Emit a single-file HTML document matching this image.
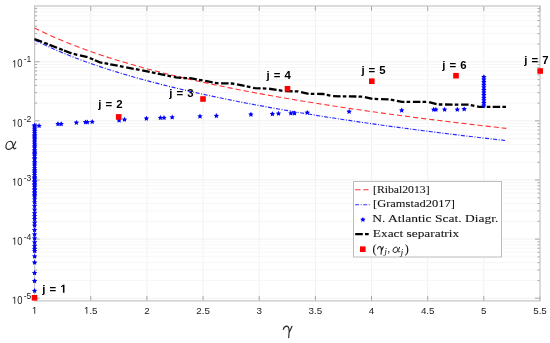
<!DOCTYPE html>
<html><head><meta charset="utf-8"><style>
html,body{margin:0;padding:0;background:#fff;width:550px;height:343px;overflow:hidden}
svg{display:block;filter:blur(0.45px)}

</style></head><body>
<svg width="550" height="343" viewBox="0 0 550 343"><g stroke="#f1f1f1" stroke-width="1"><line x1="90.76" y1="6.0" x2="90.76" y2="300.9"/><line x1="146.91" y1="6.0" x2="146.91" y2="300.9"/><line x1="203.07" y1="6.0" x2="203.07" y2="300.9"/><line x1="259.22" y1="6.0" x2="259.22" y2="300.9"/><line x1="315.38" y1="6.0" x2="315.38" y2="300.9"/><line x1="371.53" y1="6.0" x2="371.53" y2="300.9"/><line x1="427.69" y1="6.0" x2="427.69" y2="300.9"/><line x1="483.84" y1="6.0" x2="483.84" y2="300.9"/><line x1="34.6" y1="298.2" x2="540.0" y2="298.2"/><line x1="34.6" y1="239.1" x2="540.0" y2="239.1"/><line x1="34.6" y1="180" x2="540.0" y2="180"/><line x1="34.6" y1="120.9" x2="540.0" y2="120.9"/><line x1="34.6" y1="61.8" x2="540.0" y2="61.8"/></g>
<g stroke="#f7f7f7" stroke-width="1"><line x1="34.6" y1="280.41" x2="540.0" y2="280.41"/><line x1="34.6" y1="270" x2="540.0" y2="270"/><line x1="34.6" y1="262.62" x2="540.0" y2="262.62"/><line x1="34.6" y1="256.89" x2="540.0" y2="256.89"/><line x1="34.6" y1="252.21" x2="540.0" y2="252.21"/><line x1="34.6" y1="248.25" x2="540.0" y2="248.25"/><line x1="34.6" y1="244.83" x2="540.0" y2="244.83"/><line x1="34.6" y1="241.8" x2="540.0" y2="241.8"/><line x1="34.6" y1="221.31" x2="540.0" y2="221.31"/><line x1="34.6" y1="210.9" x2="540.0" y2="210.9"/><line x1="34.6" y1="203.52" x2="540.0" y2="203.52"/><line x1="34.6" y1="197.79" x2="540.0" y2="197.79"/><line x1="34.6" y1="193.11" x2="540.0" y2="193.11"/><line x1="34.6" y1="189.15" x2="540.0" y2="189.15"/><line x1="34.6" y1="185.73" x2="540.0" y2="185.73"/><line x1="34.6" y1="182.7" x2="540.0" y2="182.7"/><line x1="34.6" y1="162.21" x2="540.0" y2="162.21"/><line x1="34.6" y1="151.8" x2="540.0" y2="151.8"/><line x1="34.6" y1="144.42" x2="540.0" y2="144.42"/><line x1="34.6" y1="138.69" x2="540.0" y2="138.69"/><line x1="34.6" y1="134.01" x2="540.0" y2="134.01"/><line x1="34.6" y1="130.05" x2="540.0" y2="130.05"/><line x1="34.6" y1="126.63" x2="540.0" y2="126.63"/><line x1="34.6" y1="123.6" x2="540.0" y2="123.6"/><line x1="34.6" y1="103.11" x2="540.0" y2="103.11"/><line x1="34.6" y1="92.7" x2="540.0" y2="92.7"/><line x1="34.6" y1="85.32" x2="540.0" y2="85.32"/><line x1="34.6" y1="79.59" x2="540.0" y2="79.59"/><line x1="34.6" y1="74.91" x2="540.0" y2="74.91"/><line x1="34.6" y1="70.95" x2="540.0" y2="70.95"/><line x1="34.6" y1="67.53" x2="540.0" y2="67.53"/><line x1="34.6" y1="64.5" x2="540.0" y2="64.5"/><line x1="34.6" y1="44.01" x2="540.0" y2="44.01"/><line x1="34.6" y1="33.6" x2="540.0" y2="33.6"/><line x1="34.6" y1="26.22" x2="540.0" y2="26.22"/><line x1="34.6" y1="20.49" x2="540.0" y2="20.49"/><line x1="34.6" y1="15.81" x2="540.0" y2="15.81"/><line x1="34.6" y1="11.85" x2="540.0" y2="11.85"/><line x1="34.6" y1="8.43" x2="540.0" y2="8.43"/></g>
<path d="M34.6 300.9v-5M34.6 6.0v5M90.76 300.9v-5M90.76 6.0v5M146.91 300.9v-5M146.91 6.0v5M203.07 300.9v-5M203.07 6.0v5M259.22 300.9v-5M259.22 6.0v5M315.38 300.9v-5M315.38 6.0v5M371.53 300.9v-5M371.53 6.0v5M427.69 300.9v-5M427.69 6.0v5M483.84 300.9v-5M483.84 6.0v5M540 300.9v-5M540 6.0v5M34.6 298.2h5M540.0 298.2h-5M34.6 280.41h2.5M540.0 280.41h-2.5M34.6 270h2.5M540.0 270h-2.5M34.6 262.62h2.5M540.0 262.62h-2.5M34.6 256.89h2.5M540.0 256.89h-2.5M34.6 252.21h2.5M540.0 252.21h-2.5M34.6 248.25h2.5M540.0 248.25h-2.5M34.6 244.83h2.5M540.0 244.83h-2.5M34.6 241.8h2.5M540.0 241.8h-2.5M34.6 239.1h5M540.0 239.1h-5M34.6 221.31h2.5M540.0 221.31h-2.5M34.6 210.9h2.5M540.0 210.9h-2.5M34.6 203.52h2.5M540.0 203.52h-2.5M34.6 197.79h2.5M540.0 197.79h-2.5M34.6 193.11h2.5M540.0 193.11h-2.5M34.6 189.15h2.5M540.0 189.15h-2.5M34.6 185.73h2.5M540.0 185.73h-2.5M34.6 182.7h2.5M540.0 182.7h-2.5M34.6 180h5M540.0 180h-5M34.6 162.21h2.5M540.0 162.21h-2.5M34.6 151.8h2.5M540.0 151.8h-2.5M34.6 144.42h2.5M540.0 144.42h-2.5M34.6 138.69h2.5M540.0 138.69h-2.5M34.6 134.01h2.5M540.0 134.01h-2.5M34.6 130.05h2.5M540.0 130.05h-2.5M34.6 126.63h2.5M540.0 126.63h-2.5M34.6 123.6h2.5M540.0 123.6h-2.5M34.6 120.9h5M540.0 120.9h-5M34.6 103.11h2.5M540.0 103.11h-2.5M34.6 92.7h2.5M540.0 92.7h-2.5M34.6 85.32h2.5M540.0 85.32h-2.5M34.6 79.59h2.5M540.0 79.59h-2.5M34.6 74.91h2.5M540.0 74.91h-2.5M34.6 70.95h2.5M540.0 70.95h-2.5M34.6 67.53h2.5M540.0 67.53h-2.5M34.6 64.5h2.5M540.0 64.5h-2.5M34.6 61.8h5M540.0 61.8h-5M34.6 44.01h2.5M540.0 44.01h-2.5M34.6 33.6h2.5M540.0 33.6h-2.5M34.6 26.22h2.5M540.0 26.22h-2.5M34.6 20.49h2.5M540.0 20.49h-2.5M34.6 15.81h2.5M540.0 15.81h-2.5M34.6 11.85h2.5M540.0 11.85h-2.5M34.6 8.43h2.5M540.0 8.43h-2.5" stroke="#a8a8a8" stroke-width="1" fill="none"/>
<rect x="34.6" y="6.0" width="505.4" height="294.9" fill="none" stroke="#c4c4c4" stroke-width="1.2"/>
<polyline points="34.6,27.96 38.53,29.93 42.46,31.84 46.39,33.7 50.32,35.5 54.25,37.25 58.19,38.95 62.12,40.61 66.05,42.23 69.98,43.81 73.91,45.34 77.84,46.84 81.77,48.31 85.7,49.74 89.63,51.14 93.56,52.52 97.49,53.86 101.43,55.17 105.36,56.46 109.29,57.73 113.22,58.97 117.15,60.18 121.08,61.37 125.01,62.55 128.94,63.7 132.87,64.83 136.8,65.94 140.73,67.03 144.66,68.1 148.6,69.16 152.53,70.2 156.46,71.22 160.39,72.23 164.32,73.23 168.25,74.2 172.18,75.17 176.11,76.12 180.04,77.05 183.97,77.97 187.9,78.88 191.84,79.78 195.77,80.67 199.7,81.54 203.63,82.4 207.56,83.26 211.49,84.1 215.42,84.93 219.35,85.75 223.28,86.55 227.21,87.35 231.14,88.14 235.08,88.93 239.01,89.7 242.94,90.46 246.87,91.22 250.8,91.96 254.73,92.7 258.66,93.43 262.59,94.15 266.52,94.87 270.45,95.57 274.38,96.27 278.32,96.96 282.25,97.65 286.18,98.33 290.11,99 294.04,99.66 297.97,100.32 301.9,100.97 305.83,101.62 309.76,102.26 313.69,102.89 317.62,103.52 321.55,104.14 325.49,104.76 329.42,105.37 333.35,105.97 337.28,106.57 341.21,107.17 345.14,107.76 349.07,108.34 353,108.92 356.93,109.49 360.86,110.06 364.79,110.63 368.73,111.19 372.66,111.74 376.59,112.3 380.52,112.84 384.45,113.38 388.38,113.92 392.31,114.46 396.24,114.99 400.17,115.51 404.1,116.03 408.03,116.55 411.97,117.07 415.9,117.58 419.83,118.08 423.76,118.58 427.69,119.08 431.62,119.58 435.55,120.07 439.48,120.56 443.41,121.04 447.34,121.52 451.27,122 455.21,122.48 459.14,122.95 463.07,123.42 467,123.88 470.93,124.34 474.86,124.8 478.79,125.26 482.72,125.71 486.65,126.16 490.58,126.61 494.51,127.05 498.44,127.49 502.38,127.93 506.31,128.37" fill="none" stroke="#ff3030" stroke-width="1.1" stroke-dasharray="5.07 3.30 5.64 3.26 5.58 3.23 5.53 3.20 5.49 3.18 5.45 3.16 5.42 3.14 5.40 3.13 5.37 3.12 5.35 3.11 5.33 3.09 5.32 3.09 5.30 3.08 5.29 3.07 5.28 3.06 5.27 3.06 5.26 3.05 5.25 3.05 5.24 3.04 5.23 3.04 5.22 3.03 5.22 3.03 5.21 3.03 5.21 3.02 5.20 3.02 5.20 3.02 5.19 3.02 5.19 3.01 5.18 3.01 5.18 3.01 5.18 3.01 5.17 3.01 5.17 3.00 5.17 3.00 5.17 3.00 5.16 3.00 5.16 3.00 5.16 3.00 5.16 3.00 5.16 3.00 5.15 2.99 5.15 2.99 5.15 2.99 5.15 2.99 5.15 2.99 5.15 2.99 5.14 2.99 5.14 2.99 5.14 2.99 5.14 2.99 5.14 2.99 5.14 2.99 5.14 2.99 5.14 2.98 5.13 2.98 5.13 2.98 5.13 2.98 5.13 2.98 4.59 1000.00"/>
<polyline points="34.6,40.03 38.53,41.99 42.46,43.89 46.39,45.73 50.32,47.53 54.25,49.27 58.19,50.96 62.12,52.62 66.05,54.23 69.98,55.8 73.91,57.33 77.84,58.82 81.77,60.29 85.7,61.71 89.63,63.11 93.56,64.48 97.49,65.82 101.43,67.13 105.36,68.42 109.29,69.68 113.22,70.92 117.15,72.13 121.08,73.33 125.01,74.5 128.94,75.65 132.87,76.78 136.8,77.89 140.73,78.98 144.66,80.05 148.6,81.11 152.53,82.15 156.46,83.18 160.39,84.19 164.32,85.18 168.25,86.16 172.18,87.12 176.11,88.07 180.04,89.01 183.97,89.93 187.9,90.85 191.84,91.75 195.77,92.63 199.7,93.51 203.63,94.37 207.56,95.23 211.49,96.07 215.42,96.9 219.35,97.72 223.28,98.54 227.21,99.34 231.14,100.13 235.08,100.91 239.01,101.69 242.94,102.46 246.87,103.21 250.8,103.96 254.73,104.7 258.66,105.44 262.59,106.16 266.52,106.88 270.45,107.59 274.38,108.29 278.32,108.98 282.25,109.67 286.18,110.35 290.11,111.03 294.04,111.7 297.97,112.36 301.9,113.01 305.83,113.66 309.76,114.3 313.69,114.94 317.62,115.57 321.55,116.2 325.49,116.82 329.42,117.43 333.35,118.04 337.28,118.64 341.21,119.24 345.14,119.83 349.07,120.42 353,121 356.93,121.58 360.86,122.16 364.79,122.72 368.73,123.29 372.66,123.85 376.59,124.4 380.52,124.95 384.45,125.5 388.38,126.04 392.31,126.58 396.24,127.11 400.17,127.64 404.1,128.17 408.03,128.69 411.97,129.21 415.9,129.72 419.83,130.23 423.76,130.74 427.69,131.24 431.62,131.74 435.55,132.23 439.48,132.72 443.41,133.21 447.34,133.7 451.27,134.18 455.21,134.66 459.14,135.13 463.07,135.61 467,136.08 470.93,136.54 474.86,137 478.79,137.46 482.72,137.92 486.65,138.37 490.58,138.82 494.51,139.27 498.44,139.72 502.38,140.16 506.31,140.6" fill="none" stroke="#2828ff" stroke-width="1.15" stroke-dasharray="0.00 0.21 4.47 1.72 1.11 1.65 4.42 1.70 1.10 1.63 4.37 1.69 1.09 1.62 4.34 1.67 1.08 1.61 4.30 1.66 1.07 1.60 4.28 1.65 1.07 1.59 4.25 1.65 1.06 1.58 4.23 1.64 1.06 1.57 4.21 1.63 1.05 1.56 4.20 1.62 1.05 1.56 4.18 1.62 1.04 1.55 4.17 1.61 1.04 1.55 4.16 1.61 1.04 1.55 4.15 1.61 1.04 1.54 4.14 1.60 1.03 1.54 4.13 1.60 1.03 1.54 4.12 1.60 1.03 1.53 4.12 1.59 1.03 1.53 4.11 1.59 1.03 1.53 4.10 1.59 1.03 1.53 4.10 1.59 1.02 1.53 4.09 1.59 1.02 1.52 4.09 1.58 1.02 1.52 4.08 1.58 1.02 1.52 4.08 1.58 1.02 1.52 4.08 1.58 1.02 1.52 4.07 1.58 1.02 1.52 4.07 1.58 1.02 1.52 4.07 1.58 1.02 1.51 4.06 1.57 1.02 1.51 4.06 1.57 1.02 1.51 4.06 1.57 1.01 1.51 4.06 1.57 1.01 1.51 4.05 1.57 1.01 1.51 4.05 1.57 1.01 1.51 4.05 1.57 1.01 1.51 4.05 1.57 1.01 1.51 4.05 1.57 1.01 1.51 4.05 1.57 1.01 1.51 4.04 1.57 1.01 1.51 4.04 1.57 1.01 1.51 4.04 1.57 1.01 1.51 4.04 1.57 1.01 1.50 4.04 1.56 1.01 1.50 4.04 1.56 1.01 1.50 4.04 1.56 1.01 1.50 4.03 1.56 1.01 1.50 4.03 1.56 1.01 1.50 4.03 1.56 1.01 1.50 4.03 1.56 1.01 1.50 4.03 1.56 1.01 1.50 4.03 1.56 1.01 1.50 4.03 1.56 1.01 1.50 4.03 1.56 1.01 1.50 4.03 1.56 1.01 1.50 4.03 1.56 1.01 1.50 4.03 1.56 1.01 1.50 4.03 1.56 1.01 1.50 4.03 1000.00"/>
<polyline points="34.5,39 72,53.6 87.6,57.2 100,62.3 140,70 176,77.3 182,78 190,78.1 217,83.2 232,83.5 246,86.2 255,88.2 268,88.6 277,89.9 283,91 298,91.4 309,93.9 323,94 333,96.2 363,96.6 373,98.9 389,99.3 402,101.9 428,101.8 438,104.5 469,104.6 479,106.9 506.4,106.9" fill="none" stroke="#000" stroke-width="2.3" stroke-dasharray="8.05 2.36 3.86 1.82 8.05 2.36 3.86 1.29 8.05 2.28 3.69 2.77 7.70 2.37 3.89 1.73 7.96 2.24 3.67 2.04 7.64 2.24 3.67 2.75 7.64 2.24 3.67 2.75 7.65 2.24 3.67 2.35 7.65 2.24 3.67 2.75 7.58 2.20 3.60 2.20 7.62 2.24 3.66 2.65 7.63 2.24 3.64 2.60 7.50 2.20 3.64 2.75 7.64 2.25 3.69 2.77 7.55 2.20 3.60 2.71 7.58 2.23 3.66 2.71 7.50 2.20 3.61 2.77 7.69 2.21 3.60 2.70 7.54 2.25 3.69 2.76 7.50 2.20 3.60 2.50 7.50 2.20 3.60 2.75 7.70 2.22 3.60 2.90 7.50 2.24 3.67 2.55 7.60 2.20 3.60 2.70 7.50 2.20 3.60 2.94 7.77 2.25 3.60 2.70 7.50 2.20 3.60 2.70 7.50 2.25 3.69 2.77 7.55 2.20 3.60 2.30 7.50 2.20 3.60 1000.00"/>
<g fill="#0000ff"><polygon points="39.1,123 39.92,124.67 41.76,124.93 40.43,126.23 40.75,128.07 39.1,127.2 37.45,128.07 37.77,126.23 36.44,124.93 38.28,124.67"/><polygon points="58,121.2 58.82,122.87 60.66,123.13 59.33,124.43 59.65,126.27 58,125.4 56.35,126.27 56.67,124.43 55.34,123.13 57.18,122.87"/><polygon points="61.2,121.2 62.02,122.87 63.86,123.13 62.53,124.43 62.85,126.27 61.2,125.4 59.55,126.27 59.87,124.43 58.54,123.13 60.38,122.87"/><polygon points="76.4,119.9 77.22,121.57 79.06,121.83 77.73,123.13 78.05,124.97 76.4,124.1 74.75,124.97 75.07,123.13 73.74,121.83 75.58,121.57"/><polygon points="85.5,119.4 86.32,121.07 88.16,121.33 86.83,122.63 87.15,124.47 85.5,123.6 83.85,124.47 84.17,122.63 82.84,121.33 84.68,121.07"/><polygon points="87.3,119.4 88.12,121.07 89.96,121.33 88.63,122.63 88.95,124.47 87.3,123.6 85.65,124.47 85.97,122.63 84.64,121.33 86.48,121.07"/><polygon points="92.2,119 93.02,120.67 94.86,120.93 93.53,122.23 93.85,124.07 92.2,123.2 90.55,124.07 90.87,122.23 89.54,120.93 91.38,120.67"/><polygon points="119.1,117.6 119.92,119.27 121.76,119.53 120.43,120.83 120.75,122.67 119.1,121.8 117.45,122.67 117.77,120.83 116.44,119.53 118.28,119.27"/><polygon points="124.5,116.8 125.32,118.47 127.16,118.73 125.83,120.03 126.15,121.87 124.5,121 122.85,121.87 123.17,120.03 121.84,118.73 123.68,118.47"/><polygon points="146.4,115.7 147.22,117.37 149.06,117.63 147.73,118.93 148.05,120.77 146.4,119.9 144.75,120.77 145.07,118.93 143.74,117.63 145.58,117.37"/><polygon points="160.4,115 161.22,116.67 163.06,116.93 161.73,118.23 162.05,120.07 160.4,119.2 158.75,120.07 159.07,118.23 157.74,116.93 159.58,116.67"/><polygon points="164,115 164.82,116.67 166.66,116.93 165.33,118.23 165.65,120.07 164,119.2 162.35,120.07 162.67,118.23 161.34,116.93 163.18,116.67"/><polygon points="172.2,114.5 173.02,116.17 174.86,116.43 173.53,117.73 173.85,119.57 172.2,118.7 170.55,119.57 170.87,117.73 169.54,116.43 171.38,116.17"/><polygon points="200,113.6 200.82,115.27 202.66,115.53 201.33,116.83 201.65,118.67 200,117.8 198.35,118.67 198.67,116.83 197.34,115.53 199.18,115.27"/><polygon points="216.4,113.1 217.22,114.77 219.06,115.03 217.73,116.33 218.05,118.17 216.4,117.3 214.75,118.17 215.07,116.33 213.74,115.03 215.58,114.77"/><polygon points="250.9,111.7 251.72,113.37 253.56,113.63 252.23,114.93 252.55,116.77 250.9,115.9 249.25,116.77 249.57,114.93 248.24,113.63 250.08,113.37"/><polygon points="272.4,111.2 273.22,112.87 275.06,113.13 273.73,114.43 274.05,116.27 272.4,115.4 270.75,116.27 271.07,114.43 269.74,113.13 271.58,112.87"/><polygon points="278.5,110.8 279.32,112.47 281.16,112.73 279.83,114.03 280.15,115.87 278.5,115 276.85,115.87 277.17,114.03 275.84,112.73 277.68,112.47"/><polygon points="290.9,110.5 291.72,112.17 293.56,112.43 292.23,113.73 292.55,115.57 290.9,114.7 289.25,115.57 289.57,113.73 288.24,112.43 290.08,112.17"/><polygon points="294.5,110.5 295.32,112.17 297.16,112.43 295.83,113.73 296.15,115.57 294.5,114.7 292.85,115.57 293.17,113.73 291.84,112.43 293.68,112.17"/><polygon points="307.3,109.9 308.12,111.57 309.96,111.83 308.63,113.13 308.95,114.97 307.3,114.1 305.65,114.97 305.97,113.13 304.64,111.83 306.48,111.57"/><polygon points="349.1,108.9 349.92,110.57 351.76,110.83 350.43,112.13 350.75,113.97 349.1,113.1 347.45,113.97 347.77,112.13 346.44,110.83 348.28,110.57"/><polygon points="401.7,107.6 402.52,109.27 404.36,109.53 403.03,110.83 403.35,112.67 401.7,111.8 400.05,112.67 400.37,110.83 399.04,109.53 400.88,109.27"/><polygon points="433.7,106.8 434.52,108.47 436.36,108.73 435.03,110.03 435.35,111.87 433.7,111 432.05,111.87 432.37,110.03 431.04,108.73 432.88,108.47"/><polygon points="435.9,106.8 436.72,108.47 438.56,108.73 437.23,110.03 437.55,111.87 435.9,111 434.25,111.87 434.57,110.03 433.24,108.73 435.08,108.47"/><polygon points="444.6,106.8 445.42,108.47 447.26,108.73 445.93,110.03 446.25,111.87 444.6,111 442.95,111.87 443.27,110.03 441.94,108.73 443.78,108.47"/><polygon points="457.3,106.8 458.12,108.47 459.96,108.73 458.63,110.03 458.95,111.87 457.3,111 455.65,111.87 455.97,110.03 454.64,108.73 456.48,108.47"/><polygon points="464.2,106.4 465.02,108.07 466.86,108.33 465.53,109.63 465.85,111.47 464.2,110.6 462.55,111.47 462.87,109.63 461.54,108.33 463.38,108.07"/><polygon points="34.6,193.7 35.42,195.37 37.26,195.63 35.93,196.93 36.25,198.77 34.6,197.9 32.95,198.77 33.27,196.93 31.94,195.63 33.78,195.37"/><polygon points="34.6,196.6 35.42,198.27 37.26,198.53 35.93,199.83 36.25,201.67 34.6,200.8 32.95,201.67 33.27,199.83 31.94,198.53 33.78,198.27"/><polygon points="34.6,199.5 35.42,201.17 37.26,201.43 35.93,202.73 36.25,204.57 34.6,203.7 32.95,204.57 33.27,202.73 31.94,201.43 33.78,201.17"/><polygon points="34.6,203.1 35.42,204.77 37.26,205.03 35.93,206.33 36.25,208.17 34.6,207.3 32.95,208.17 33.27,206.33 31.94,205.03 33.78,204.77"/><polygon points="34.6,206.8 35.42,208.47 37.26,208.73 35.93,210.03 36.25,211.87 34.6,211 32.95,211.87 33.27,210.03 31.94,208.73 33.78,208.47"/><polygon points="34.6,210.4 35.42,212.07 37.26,212.33 35.93,213.63 36.25,215.47 34.6,214.6 32.95,215.47 33.27,213.63 31.94,212.33 33.78,212.07"/><polygon points="34.6,213.3 35.42,214.97 37.26,215.23 35.93,216.53 36.25,218.37 34.6,217.5 32.95,218.37 33.27,216.53 31.94,215.23 33.78,214.97"/><polygon points="34.6,216.2 35.42,217.87 37.26,218.13 35.93,219.43 36.25,221.27 34.6,220.4 32.95,221.27 33.27,219.43 31.94,218.13 33.78,217.87"/><polygon points="34.6,219.9 35.42,221.57 37.26,221.83 35.93,223.13 36.25,224.97 34.6,224.1 32.95,224.97 33.27,223.13 31.94,221.83 33.78,221.57"/><polygon points="34.6,222.8 35.42,224.47 37.26,224.73 35.93,226.03 36.25,227.87 34.6,227 32.95,227.87 33.27,226.03 31.94,224.73 33.78,224.47"/><polygon points="34.6,227.2 35.42,228.87 37.26,229.13 35.93,230.43 36.25,232.27 34.6,231.4 32.95,232.27 33.27,230.43 31.94,229.13 33.78,228.87"/><polygon points="34.6,231.6 35.42,233.27 37.26,233.53 35.93,234.83 36.25,236.67 34.6,235.8 32.95,236.67 33.27,234.83 31.94,233.53 33.78,233.27"/><polygon points="34.6,235.6 35.42,237.27 37.26,237.53 35.93,238.83 36.25,240.67 34.6,239.8 32.95,240.67 33.27,238.83 31.94,237.53 33.78,237.27"/><polygon points="34.6,239.6 35.42,241.27 37.26,241.53 35.93,242.83 36.25,244.67 34.6,243.8 32.95,244.67 33.27,242.83 31.94,241.53 33.78,241.27"/><polygon points="34.6,243.1 35.42,244.77 37.26,245.03 35.93,246.33 36.25,248.17 34.6,247.3 32.95,248.17 33.27,246.33 31.94,245.03 33.78,244.77"/><polygon points="34.6,246 35.42,247.67 37.26,247.93 35.93,249.23 36.25,251.07 34.6,250.2 32.95,251.07 33.27,249.23 31.94,247.93 33.78,247.67"/><polygon points="34.6,248.3 35.42,249.97 37.26,250.23 35.93,251.53 36.25,253.37 34.6,252.5 32.95,253.37 33.27,251.53 31.94,250.23 33.78,249.97"/><polygon points="34.6,253.6 35.42,255.27 37.26,255.53 35.93,256.83 36.25,258.67 34.6,257.8 32.95,258.67 33.27,256.83 31.94,255.53 33.78,255.27"/><polygon points="34.6,259.7 35.42,261.37 37.26,261.63 35.93,262.93 36.25,264.77 34.6,263.9 32.95,264.77 33.27,262.93 31.94,261.63 33.78,261.37"/><polygon points="34.6,270.2 35.42,271.87 37.26,272.13 35.93,273.43 36.25,275.27 34.6,274.4 32.95,275.27 33.27,273.43 31.94,272.13 33.78,271.87"/><polygon points="34.6,278.2 35.42,279.87 37.26,280.13 35.93,281.43 36.25,283.27 34.6,282.4 32.95,283.27 33.27,281.43 31.94,280.13 33.78,279.87"/><polygon points="34.6,288 35.42,289.67 37.26,289.93 35.93,291.23 36.25,293.07 34.6,292.2 32.95,293.07 33.27,291.23 31.94,289.93 33.78,289.67"/><polygon points="34.6,192.2 35.42,193.87 37.26,194.13 35.93,195.43 36.25,197.27 34.6,196.4 32.95,197.27 33.27,195.43 31.94,194.13 33.78,193.87"/><polygon points="34.6,190.61 35.42,192.28 37.26,192.55 35.93,193.85 36.25,195.68 34.6,194.81 32.95,195.68 33.27,193.85 31.94,192.55 33.78,192.28"/><polygon points="34.6,189.29 35.42,190.96 37.26,191.22 35.93,192.52 36.25,194.35 34.6,193.49 32.95,194.35 33.27,192.52 31.94,191.22 33.78,190.96"/><polygon points="34.6,187.21 35.42,188.88 37.26,189.15 35.93,190.44 36.25,192.28 34.6,191.41 32.95,192.28 33.27,190.44 31.94,189.15 33.78,188.88"/><polygon points="34.6,186 35.42,187.67 37.26,187.94 35.93,189.24 36.25,191.07 34.6,190.2 32.95,191.07 33.27,189.24 31.94,187.94 33.78,187.67"/><polygon points="34.6,184.1 35.42,185.77 37.26,186.03 35.93,187.33 36.25,189.16 34.6,188.3 32.95,189.16 33.27,187.33 31.94,186.03 33.78,185.77"/><polygon points="34.6,182.45 35.42,184.12 37.26,184.39 35.93,185.68 36.25,187.52 34.6,186.65 32.95,187.52 33.27,185.68 31.94,184.39 33.78,184.12"/><polygon points="34.6,181.26 35.42,182.93 37.26,183.2 35.93,184.5 36.25,186.33 34.6,185.46 32.95,186.33 33.27,184.5 31.94,183.2 33.78,182.93"/><polygon points="34.6,179.4 35.42,181.07 37.26,181.34 35.93,182.64 36.25,184.47 34.6,183.6 32.95,184.47 33.27,182.64 31.94,181.34 33.78,181.07"/><polygon points="34.6,178.25 35.42,179.91 37.26,180.18 35.93,181.48 36.25,183.31 34.6,182.45 32.95,183.31 33.27,181.48 31.94,180.18 33.78,179.91"/><polygon points="34.6,176.5 35.42,178.16 37.26,178.43 35.93,179.73 36.25,181.56 34.6,180.7 32.95,181.56 33.27,179.73 31.94,178.43 33.78,178.16"/><polygon points="34.6,175.29 35.42,176.96 37.26,177.23 35.93,178.52 36.25,180.36 34.6,179.49 32.95,180.36 33.27,178.52 31.94,177.23 33.78,176.96"/><polygon points="34.6,174.05 35.42,175.72 37.26,175.99 35.93,177.29 36.25,179.12 34.6,178.25 32.95,179.12 33.27,177.29 31.94,175.99 33.78,175.72"/><polygon points="34.6,172.32 35.42,173.99 37.26,174.25 35.93,175.55 36.25,177.38 34.6,176.52 32.95,177.38 33.27,175.55 31.94,174.25 33.78,173.99"/><polygon points="34.6,169.98 35.42,171.65 37.26,171.91 35.93,173.21 36.25,175.04 34.6,174.18 32.95,175.04 33.27,173.21 31.94,171.91 33.78,171.65"/><polygon points="34.6,168.69 35.42,170.36 37.26,170.63 35.93,171.92 36.25,173.76 34.6,172.89 32.95,173.76 33.27,171.92 31.94,170.63 33.78,170.36"/><polygon points="34.6,167.26 35.42,168.92 37.26,169.19 35.93,170.49 36.25,172.32 34.6,171.46 32.95,172.32 33.27,170.49 31.94,169.19 33.78,168.92"/><polygon points="34.6,165.22 35.42,166.88 37.26,167.15 35.93,168.45 36.25,170.28 34.6,169.42 32.95,170.28 33.27,168.45 31.94,167.15 33.78,166.88"/><polygon points="34.6,162.69 35.42,164.36 37.26,164.63 35.93,165.93 36.25,167.76 34.6,166.89 32.95,167.76 33.27,165.93 31.94,164.63 33.78,164.36"/><polygon points="34.6,160.73 35.42,162.4 37.26,162.66 35.93,163.96 36.25,165.79 34.6,164.93 32.95,165.79 33.27,163.96 31.94,162.66 33.78,162.4"/><polygon points="34.6,159.03 35.42,160.7 37.26,160.97 35.93,162.27 36.25,164.1 34.6,163.23 32.95,164.1 33.27,162.27 31.94,160.97 33.78,160.7"/><polygon points="34.6,156.47 35.42,158.14 37.26,158.4 35.93,159.7 36.25,161.53 34.6,160.67 32.95,161.53 33.27,159.7 31.94,158.4 33.78,158.14"/><polygon points="34.6,155.3 35.42,156.97 37.26,157.23 35.93,158.53 36.25,160.36 34.6,159.5 32.95,160.36 33.27,158.53 31.94,157.23 33.78,156.97"/><polygon points="34.6,152.91 35.42,154.58 37.26,154.85 35.93,156.14 36.25,157.98 34.6,157.11 32.95,157.98 33.27,156.14 31.94,154.85 33.78,154.58"/><polygon points="34.6,151.38 35.42,153.04 37.26,153.31 35.93,154.61 36.25,156.44 34.6,155.58 32.95,156.44 33.27,154.61 31.94,153.31 33.78,153.04"/><polygon points="34.6,150.06 35.42,151.73 37.26,152 35.93,153.29 36.25,155.13 34.6,154.26 32.95,155.13 33.27,153.29 31.94,152 33.78,151.73"/><polygon points="34.6,148.78 35.42,150.45 37.26,150.72 35.93,152.02 36.25,153.85 34.6,152.98 32.95,153.85 33.27,152.02 31.94,150.72 33.78,150.45"/><polygon points="34.6,147.22 35.42,148.89 37.26,149.16 35.93,150.45 36.25,152.29 34.6,151.42 32.95,152.29 33.27,150.45 31.94,149.16 33.78,148.89"/><polygon points="34.6,144.9 35.42,146.56 37.26,146.83 35.93,148.13 36.25,149.96 34.6,149.1 32.95,149.96 33.27,148.13 31.94,146.83 33.78,146.56"/><polygon points="34.6,143.53 35.42,145.19 37.26,145.46 35.93,146.76 36.25,148.59 34.6,147.73 32.95,148.59 33.27,146.76 31.94,145.46 33.78,145.19"/><polygon points="34.6,141.55 35.42,143.22 37.26,143.49 35.93,144.79 36.25,146.62 34.6,145.75 32.95,146.62 33.27,144.79 31.94,143.49 33.78,143.22"/><polygon points="34.6,139.5 35.42,141.16 37.26,141.43 35.93,142.73 36.25,144.56 34.6,143.7 32.95,144.56 33.27,142.73 31.94,141.43 33.78,141.16"/><polygon points="34.6,137.84 35.42,139.5 37.26,139.77 35.93,141.07 36.25,142.9 34.6,142.04 32.95,142.9 33.27,141.07 31.94,139.77 33.78,139.5"/><polygon points="34.6,135.92 35.42,137.58 37.26,137.85 35.93,139.15 36.25,140.98 34.6,140.12 32.95,140.98 33.27,139.15 31.94,137.85 33.78,137.58"/><polygon points="34.6,134.72 35.42,136.39 37.26,136.66 35.93,137.95 36.25,139.79 34.6,138.92 32.95,139.79 33.27,137.95 31.94,136.66 33.78,136.39"/><polygon points="34.6,133.53 35.42,135.2 37.26,135.47 35.93,136.76 36.25,138.6 34.6,137.73 32.95,138.6 33.27,136.76 31.94,135.47 33.78,135.2"/><polygon points="34.6,132.12 35.42,133.79 37.26,134.06 35.93,135.36 36.25,137.19 34.6,136.32 32.95,137.19 33.27,135.36 31.94,134.06 33.78,133.79"/><polygon points="34.6,130 35.42,131.67 37.26,131.94 35.93,133.23 36.25,135.07 34.6,134.2 32.95,135.07 33.27,133.23 31.94,131.94 33.78,131.67"/><polygon points="34.6,128.26 35.42,129.93 37.26,130.2 35.93,131.49 36.25,133.33 34.6,132.46 32.95,133.33 33.27,131.49 31.94,130.2 33.78,129.93"/><polygon points="34.6,126.69 35.42,128.36 37.26,128.62 35.93,129.92 36.25,131.75 34.6,130.89 32.95,131.75 33.27,129.92 31.94,128.62 33.78,128.36"/><polygon points="34.6,124.71 35.42,126.38 37.26,126.65 35.93,127.94 36.25,129.78 34.6,128.91 32.95,129.78 33.27,127.94 31.94,126.65 33.78,126.38"/><polygon points="34.6,122.93 35.42,124.6 37.26,124.87 35.93,126.16 36.25,128 34.6,127.13 32.95,128 33.27,126.16 31.94,124.87 33.78,124.6"/><polygon points="34.6,122.8 35.42,124.47 37.26,124.73 35.93,126.03 36.25,127.87 34.6,127 32.95,127.87 33.27,126.03 31.94,124.73 33.78,124.47"/><polygon points="483.84,102.8 484.67,104.47 486.51,104.73 485.18,106.03 485.49,107.87 483.84,107 482.2,107.87 482.51,106.03 481.18,104.73 483.02,104.47"/><polygon points="483.84,100.2 484.67,101.87 486.51,102.13 485.18,103.43 485.49,105.27 483.84,104.4 482.2,105.27 482.51,103.43 481.18,102.13 483.02,101.87"/><polygon points="483.84,97.6 484.67,99.27 486.51,99.53 485.18,100.83 485.49,102.67 483.84,101.8 482.2,102.67 482.51,100.83 481.18,99.53 483.02,99.27"/><polygon points="483.84,95 484.67,96.67 486.51,96.93 485.18,98.23 485.49,100.07 483.84,99.2 482.2,100.07 482.51,98.23 481.18,96.93 483.02,96.67"/><polygon points="483.84,92.4 484.67,94.07 486.51,94.33 485.18,95.63 485.49,97.47 483.84,96.6 482.2,97.47 482.51,95.63 481.18,94.33 483.02,94.07"/><polygon points="483.84,89.8 484.67,91.47 486.51,91.73 485.18,93.03 485.49,94.87 483.84,94 482.2,94.87 482.51,93.03 481.18,91.73 483.02,91.47"/><polygon points="483.84,87.2 484.67,88.87 486.51,89.13 485.18,90.43 485.49,92.27 483.84,91.4 482.2,92.27 482.51,90.43 481.18,89.13 483.02,88.87"/><polygon points="483.84,84.6 484.67,86.27 486.51,86.53 485.18,87.83 485.49,89.67 483.84,88.8 482.2,89.67 482.51,87.83 481.18,86.53 483.02,86.27"/><polygon points="483.84,82 484.67,83.67 486.51,83.93 485.18,85.23 485.49,87.07 483.84,86.2 482.2,87.07 482.51,85.23 481.18,83.93 483.02,83.67"/><polygon points="483.84,79.4 484.67,81.07 486.51,81.33 485.18,82.63 485.49,84.47 483.84,83.6 482.2,84.47 482.51,82.63 481.18,81.33 483.02,81.07"/><polygon points="483.84,76.8 484.67,78.47 486.51,78.73 485.18,80.03 485.49,81.87 483.84,81 482.2,81.87 482.51,80.03 481.18,78.73 483.02,78.47"/><polygon points="483.84,74.2 484.67,75.87 486.51,76.13 485.18,77.43 485.49,79.27 483.84,78.4 482.2,79.27 482.51,77.43 481.18,76.13 483.02,75.87"/></g>
<g fill="#ff0000"><rect x="31.7" y="295" width="5.6" height="5.6"/><rect x="115.9" y="114.1" width="5.6" height="5.6"/><rect x="200.2" y="96.2" width="5.6" height="5.6"/><rect x="284.7" y="86" width="5.6" height="5.6"/><rect x="369" y="78.4" width="5.6" height="5.6"/><rect x="453.2" y="72.9" width="5.6" height="5.6"/><rect x="537.4" y="68.2" width="5.6" height="5.6"/></g>
<g font-family="Liberation Sans" font-weight="bold" font-size="11.4" word-spacing="0.9" fill="#000"><text x="42.3" y="292.7">j =</text><text x="98.3" y="107.7">j = 2</text><text x="169.3" y="96.6">j = 3</text><text x="266.5" y="79.4">j = 4</text><text x="361.4" y="73.5">j = 5</text><text x="442.2" y="69.1">j = 6</text><text x="524.3" y="64.3">j = 7</text></g>
<path d="M62.92,292.70 L62.92,286.19 L61.04,287.36 L61.04,286.13 L63.00,284.86 L64.48,284.86 L64.48,292.70Z" fill="#000"/>
<g font-family="Liberation Sans" font-size="9.8" fill="#1c1c1c"><text x="89.39" y="313.8">.5</text><text x="146.91" y="313.8" text-anchor="middle">2</text><text x="203.07" y="313.8" text-anchor="middle">2.5</text><text x="259.22" y="313.8" text-anchor="middle">3</text><text x="315.38" y="313.8" text-anchor="middle">3.5</text><text x="371.53" y="313.8" text-anchor="middle">4</text><text x="427.69" y="313.8" text-anchor="middle">4.5</text><text x="483.84" y="313.8" text-anchor="middle">5</text><text x="540" y="313.8" text-anchor="middle">5.5</text><text transform="translate(17.23 67.4) scale(0.92 1)" font-size="10.3">0</text><text x="23.7" y="62.4" font-size="8.6">-1</text><text transform="translate(17.23 126.5) scale(0.92 1)" font-size="10.3">0</text><text x="23.7" y="121.5" font-size="8.6">-2</text><text transform="translate(17.23 185.6) scale(0.92 1)" font-size="10.3">0</text><text x="23.7" y="180.6" font-size="8.6">-3</text><text transform="translate(17.23 244.7) scale(0.92 1)" font-size="10.3">0</text><text x="23.7" y="239.7" font-size="8.6">-4</text><text transform="translate(17.23 303.8) scale(0.92 1)" font-size="10.3">0</text><text x="23.7" y="298.8" font-size="8.6">-5</text></g>
<path d="M34.34,313.80 L34.34,307.88 L32.82,308.97 L32.82,308.15 L34.41,307.06 L35.21,307.06 L35.21,313.80ZM86.41,313.80 L86.41,307.88 L84.89,308.97 L84.89,308.15 L86.48,307.06 L87.27,307.06 L87.27,313.80ZM14.34,67.40 L14.34,61.18 L12.87,62.32 L12.87,61.47 L14.41,60.31 L15.18,60.31 L15.18,67.40ZM14.34,126.50 L14.34,120.28 L12.87,121.42 L12.87,120.57 L14.41,119.41 L15.18,119.41 L15.18,126.50ZM14.34,185.60 L14.34,179.38 L12.87,180.52 L12.87,179.67 L14.41,178.51 L15.18,178.51 L15.18,185.60ZM14.34,244.70 L14.34,238.48 L12.87,239.62 L12.87,238.77 L14.41,237.61 L15.18,237.61 L15.18,244.70ZM14.34,303.80 L14.34,297.58 L12.87,298.72 L12.87,297.87 L14.41,296.71 L15.18,296.71 L15.18,303.80Z" fill="#1c1c1c"/>
<path d="M15.7,141.7 C14.9,143.6 13.9,146.2 12.2,147.6 C11.2,148.6 10.1,149.4 8.8,149.4 C6.8,149.4 5.7,148.1 5.9,146.2 C6.2,143.4 8.2,141.2 10.2,141.2 C12.1,141.2 12.6,142.8 12.9,144.6 C13.2,146.6 13.3,148.8 14.6,148.8 C15.2,148.8 15.6,148.4 15.9,148" fill="none" stroke="#262626" stroke-width="1.15" stroke-linecap="round"/>
<path d="M283.3,329.4 C283.9,327.2 285.3,326.1 286.7,326.1 C288.6,326.1 289.1,328.4 289.2,331.2 L288.7,337.6 M292,326.3 C291.3,328.2 290.3,330.2 289.3,332" fill="none" stroke="#262626" stroke-width="1.15" stroke-linecap="round"/>
<rect x="353.5" y="181.5" width="148" height="75.5" fill="#fff" stroke="#bdbdbd" stroke-width="1"/><line x1="355.1" y1="189.7" x2="368.5" y2="189.7" stroke="#ff3030" stroke-width="1.1" stroke-dasharray="5.4 2.8"/><line x1="355.1" y1="204.7" x2="370" y2="204.7" stroke="#3030ff" stroke-width="1.1" stroke-dasharray="4 1.55 1 1.55"/><g fill="#0000ff"><polygon points="362.9,216.9 363.72,218.57 365.56,218.83 364.23,220.13 364.55,221.97 362.9,221.1 361.25,221.97 361.57,220.13 360.24,218.83 362.08,218.57"/></g><line x1="355.2" y1="234.2" x2="368.7" y2="234.2" stroke="#000" stroke-width="2.3" stroke-dasharray="7.6 2.2 3.8 2.2"/><rect x="360" y="246.39999999999998" width="5.6" height="5.6" fill="#ff0000"/><g font-family="Liberation Serif" font-size="11.2" fill="#111" stroke="#111" stroke-width="0.08"><text x="373.0" y="192.6" textLength="56.6" lengthAdjust="spacingAndGlyphs">[Ribal2013]</text><text x="373.0" y="207.4" textLength="81.8" lengthAdjust="spacingAndGlyphs">[Gramstad2017]</text><text x="372.3" y="222.3" textLength="126.0" lengthAdjust="spacingAndGlyphs">N. Atlantic Scat. Diagr.</text><text x="372.8" y="236.9" textLength="86.4" lengthAdjust="spacingAndGlyphs">Exact separatrix</text><text x="372.6" y="253" font-size="12">(</text><path transform="translate(190.52 31.37) scale(0.66)" d="M283.3,329.4 C283.9,327.2 285.3,326.1 286.7,326.1 C288.6,326.1 289.1,328.4 289.2,331.2 L288.7,337.6 M292,326.3 C291.3,328.2 290.3,330.2 289.3,332" fill="none" stroke="#1a1a1a" stroke-width="1.6" stroke-linecap="round"/><text x="384.4" y="254.4" font-style="italic" font-size="8.5">j</text><text x="387.6" y="251.6" font-size="10">,</text><path transform="translate(389.21 153.91) scale(0.66)" d="M15.7,141.7 C14.9,143.6 13.9,146.2 12.2,147.6 C11.2,148.6 10.1,149.4 8.8,149.4 C6.8,149.4 5.7,148.1 5.9,146.2 C6.2,143.4 8.2,141.2 10.2,141.2 C12.1,141.2 12.6,142.8 12.9,144.6 C13.2,146.6 13.3,148.8 14.6,148.8 C15.2,148.8 15.6,148.4 15.9,148" fill="none" stroke="#1a1a1a" stroke-width="1.5" stroke-linecap="round"/><text x="400.8" y="254.6" font-style="italic" font-size="8.5">j</text><text x="404.8" y="253" font-size="12">)</text></g></svg>
</body></html>
